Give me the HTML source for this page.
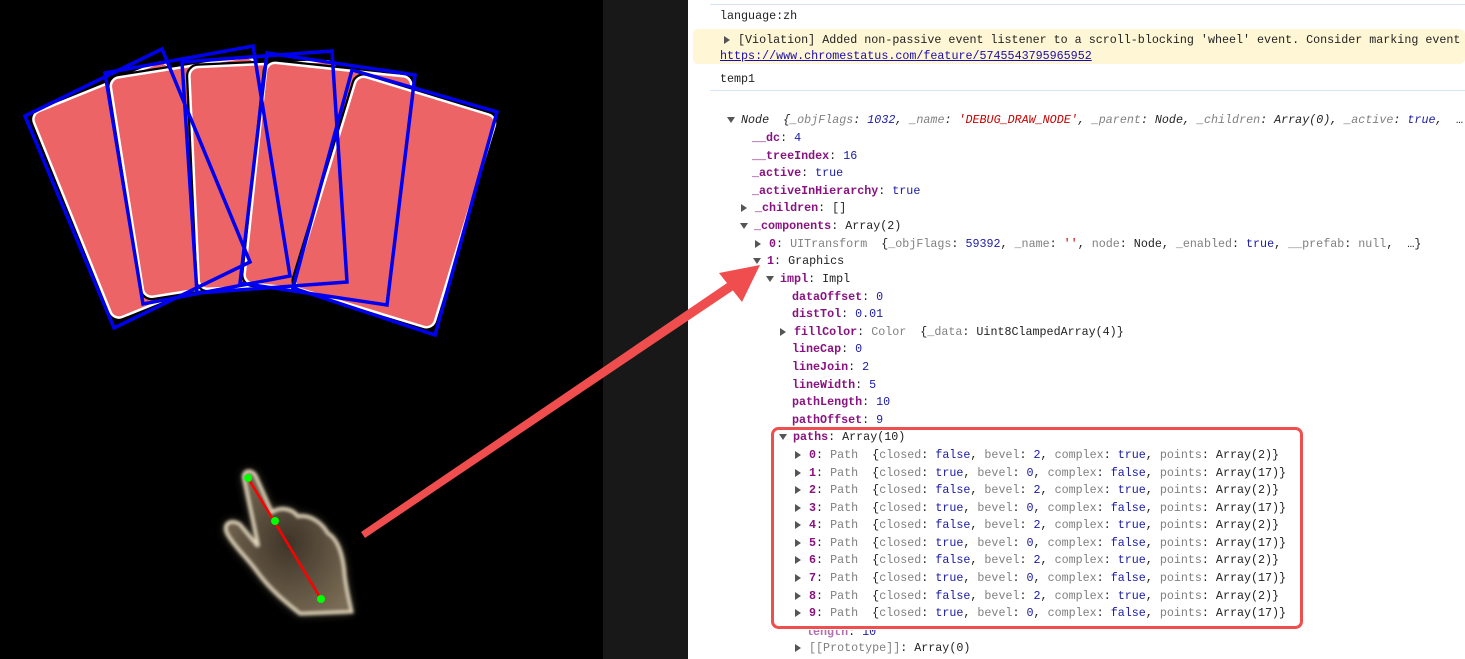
<!DOCTYPE html>
<html><head><meta charset="utf-8"><style>
body{margin:0;width:1465px;height:659px;overflow:hidden;background:#fff;position:relative;font-family:"Liberation Mono",monospace;font-size:11.7px}
.l{position:absolute;white-space:pre;line-height:16px;color:#222}
.k{color:#881280;font-weight:bold}
.v{color:#1a1aa6}
.g{color:#808080}
.s{color:#c80000}
.t{display:inline-block;width:0;height:0;border-left:4px solid transparent;border-right:4px solid transparent;border-top:6px solid #555;position:absolute;margin-top:5px}
.r{display:inline-block;width:0;height:0;border-top:4px solid transparent;border-bottom:4px solid transparent;border-left:6px solid #555;position:absolute;margin-top:4px}
</style></head><body>
<div style="position:absolute;left:0;top:0;width:603px;height:659px;background:#000"></div>
<div style="position:absolute;left:603px;top:0;width:85px;height:659px;background:#181818"></div>
<svg style="position:absolute;left:0;top:0" width="688" height="659">
<defs>
<filter id="gl" x="-30%" y="-30%" width="160%" height="160%"><feGaussianBlur stdDeviation="1.5"/></filter>
<filter id="gl2" x="-30%" y="-30%" width="160%" height="160%"><feGaussianBlur stdDeviation="5"/></filter>
<radialGradient id="hg" cx="0.5" cy="0.5" r="0.6"><stop offset="0" stop-color="#3e3428"/><stop offset="1" stop-color="#7a6c55"/></radialGradient>
<g id="cd"><rect x="-73" y="-111" width="146" height="222" rx="9" fill="#ec6466" stroke="#000" stroke-width="7"/><rect x="-73" y="-111" width="146" height="222" rx="9" fill="#ec6466" stroke="#fff" stroke-width="2.5"/></g>
</defs>
<use href="#cd" transform="translate(140,190) rotate(-22)"/>
<use href="#cd" transform="translate(199,177) rotate(-9)"/>
<use href="#cd" transform="translate(267,175) rotate(-2.6)"/>
<use href="#cd" transform="translate(328,180) rotate(6)"/>
<use href="#cd" transform="translate(395,202) rotate(17)"/>
<g stroke="#0000f0" stroke-width="3.5" fill="none">
<polygon points="25,116 162,49 250,262 114,328"/>
<polygon points="105,73 253,46 290,276 143,304"/>
<polygon points="182,62 332,51 347,282 197,293"/>
<polygon points="267,53 415,75 387,305 240,283"/>
<polygon points="352,70 497,112 435,335 293,288"/>
</g>
<path id="hp" d="M244,480 C241,470 252,468 256,476 L272,512 C280,506 292,508 298,516 C310,514 322,522 328,533 C340,540 344,560 345,576 C347,592 350,603 352,612 L300,614 C285,602 270,590 257,572 C247,558 235,548 227,534 C222,524 230,518 240,524 L258,546 Z" fill="#c9b894" filter="url(#gl2)" opacity="0.5"/>
<path d="M244,480 C241,470 252,468 256,476 L272,512 C280,506 292,508 298,516 C310,514 322,522 328,533 C340,540 344,560 345,576 C347,592 350,603 352,612 L300,614 C285,602 270,590 257,572 C247,558 235,548 227,534 C222,524 230,518 240,524 L258,546 Z" fill="url(#hg)" stroke="#e8dcc0" stroke-width="3" filter="url(#gl)"/>
<line x1="248" y1="478" x2="321" y2="599" stroke="#f00" stroke-width="2.5"/>
<circle cx="248" cy="478" r="4" fill="#0f0"/><circle cx="275" cy="521" r="4" fill="#0f0"/><circle cx="321" cy="599" r="4" fill="#0f0"/>
</svg>
<svg style="position:absolute;left:0;top:0;pointer-events:none" width="1465" height="659">
<polygon points="361,532 365,538 738,287 733,279" fill="#f04e4e"/>
<polygon points="760,265 719,273 742,302" fill="#f04e4e"/>
<rect x="772.5" y="428.5" width="529" height="199" rx="6" fill="none" stroke="#ee4f4f" stroke-width="3"/>
</svg>
<div style="position:absolute;left:710px;top:4px;width:755px;height:1px;background:#d6e3f5"></div>
<div class="l" style="left:720px;top:8px">language:zh</div>
<div style="position:absolute;left:693px;top:29px;width:772px;height:35px;background:#fef6d5;border-radius:5px"></div>
<div class="l" style="left:724px;top:32px"><span class="r"></span>  [Violation] Added non-passive event listener to a scroll-blocking 'wheel' event. Consider marking event h</div>
<div class="l" style="left:720px;top:48px;color:#1a0dab;text-decoration:underline">https://www.chromestatus.com/feature/5745543795965952</div>
<div class="l" style="left:720px;top:71px">temp1</div>
<div style="position:absolute;left:710px;top:90px;width:755px;height:1px;background:#d6e3f5"></div>
<div class="l" style="left:727px;top:112px"><span class="t"></span>  <i>Node  {<span class="g">_objFlags</span>: <span class="v">1032</span>, <span class="g">_name</span>: <span class="s">'DEBUG_DRAW_NODE'</span>, <span class="g">_parent</span>: Node, <span class="g">_children</span>: Array(0), <span class="g">_active</span>: <span class="v">true</span>,  …</i></div>
<div class="l" style="left:752px;top:130px"><span class="k">__dc</span>: <span class="v">4</span></div>
<div class="l" style="left:752px;top:148px"><span class="k">__treeIndex</span>: <span class="v">16</span></div>
<div class="l" style="left:752px;top:165px"><span class="k">_active</span>: <span class="v">true</span></div>
<div class="l" style="left:752px;top:183px"><span class="k">_activeInHierarchy</span>: <span class="v">true</span></div>
<div class="l" style="left:741px;top:200px"><span class="r"></span>  <span class="k">_children</span>: []</div>
<div class="l" style="left:740px;top:218px"><span class="t"></span>  <span class="k">_components</span>: Array(2)</div>
<div class="l" style="left:755px;top:236px"><span class="r"></span>  <span class="k">0</span>: <span class="g">UITransform</span>  {<span class="g">_objFlags</span>: <span class="v">59392</span>, <span class="g">_name</span>: <span class="s">''</span>, <span class="g">node</span>: Node, <span class="g">_enabled</span>: <span class="v">true</span>, <span class="g">__prefab</span>: <span class="g">null</span>,  …}</div>
<div class="l" style="left:753px;top:253px"><span class="t"></span>  <span class="k">1</span>: Graphics</div>
<div class="l" style="left:766px;top:271px"><span class="t"></span>  <span class="k">impl</span>: Impl</div>
<div class="l" style="left:792px;top:289px"><span class="k">dataOffset</span>: <span class="v">0</span></div>
<div class="l" style="left:792px;top:306px"><span class="k">distTol</span>: <span class="v">0.01</span></div>
<div class="l" style="left:780px;top:324px"><span class="r"></span>  <span class="k">fillColor</span>: <span class="g">Color</span>  {<span class="g">_data</span>: Uint8ClampedArray(4)}</div>
<div class="l" style="left:792px;top:341px"><span class="k">lineCap</span>: <span class="v">0</span></div>
<div class="l" style="left:792px;top:359px"><span class="k">lineJoin</span>: <span class="v">2</span></div>
<div class="l" style="left:792px;top:377px"><span class="k">lineWidth</span>: <span class="v">5</span></div>
<div class="l" style="left:792px;top:394px"><span class="k">pathLength</span>: <span class="v">10</span></div>
<div class="l" style="left:792px;top:412px"><span class="k">pathOffset</span>: <span class="v">9</span></div>
<div class="l" style="left:779px;top:429px"><span class="t"></span>  <span class="k">paths</span>: Array(10)</div>
<div class="l" style="left:795px;top:447px"><span class="r"></span>  <span class="k">0</span>: <span class="g">Path</span>  {<span class="g">closed</span>: <span class="v">false</span>, <span class="g">bevel</span>: <span class="v">2</span>, <span class="g">complex</span>: <span class="v">true</span>, <span class="g">points</span>: Array(2)}</div>
<div class="l" style="left:795px;top:465px"><span class="r"></span>  <span class="k">1</span>: <span class="g">Path</span>  {<span class="g">closed</span>: <span class="v">true</span>, <span class="g">bevel</span>: <span class="v">0</span>, <span class="g">complex</span>: <span class="v">false</span>, <span class="g">points</span>: Array(17)}</div>
<div class="l" style="left:795px;top:482px"><span class="r"></span>  <span class="k">2</span>: <span class="g">Path</span>  {<span class="g">closed</span>: <span class="v">false</span>, <span class="g">bevel</span>: <span class="v">2</span>, <span class="g">complex</span>: <span class="v">true</span>, <span class="g">points</span>: Array(2)}</div>
<div class="l" style="left:795px;top:500px"><span class="r"></span>  <span class="k">3</span>: <span class="g">Path</span>  {<span class="g">closed</span>: <span class="v">true</span>, <span class="g">bevel</span>: <span class="v">0</span>, <span class="g">complex</span>: <span class="v">false</span>, <span class="g">points</span>: Array(17)}</div>
<div class="l" style="left:795px;top:517px"><span class="r"></span>  <span class="k">4</span>: <span class="g">Path</span>  {<span class="g">closed</span>: <span class="v">false</span>, <span class="g">bevel</span>: <span class="v">2</span>, <span class="g">complex</span>: <span class="v">true</span>, <span class="g">points</span>: Array(2)}</div>
<div class="l" style="left:795px;top:535px"><span class="r"></span>  <span class="k">5</span>: <span class="g">Path</span>  {<span class="g">closed</span>: <span class="v">true</span>, <span class="g">bevel</span>: <span class="v">0</span>, <span class="g">complex</span>: <span class="v">false</span>, <span class="g">points</span>: Array(17)}</div>
<div class="l" style="left:795px;top:552px"><span class="r"></span>  <span class="k">6</span>: <span class="g">Path</span>  {<span class="g">closed</span>: <span class="v">false</span>, <span class="g">bevel</span>: <span class="v">2</span>, <span class="g">complex</span>: <span class="v">true</span>, <span class="g">points</span>: Array(2)}</div>
<div class="l" style="left:795px;top:570px"><span class="r"></span>  <span class="k">7</span>: <span class="g">Path</span>  {<span class="g">closed</span>: <span class="v">true</span>, <span class="g">bevel</span>: <span class="v">0</span>, <span class="g">complex</span>: <span class="v">false</span>, <span class="g">points</span>: Array(17)}</div>
<div class="l" style="left:795px;top:588px"><span class="r"></span>  <span class="k">8</span>: <span class="g">Path</span>  {<span class="g">closed</span>: <span class="v">false</span>, <span class="g">bevel</span>: <span class="v">2</span>, <span class="g">complex</span>: <span class="v">true</span>, <span class="g">points</span>: Array(2)}</div>
<div class="l" style="left:795px;top:605px"><span class="r"></span>  <span class="k">9</span>: <span class="g">Path</span>  {<span class="g">closed</span>: <span class="v">true</span>, <span class="g">bevel</span>: <span class="v">0</span>, <span class="g">complex</span>: <span class="v">false</span>, <span class="g">points</span>: Array(17)}</div>
<div class="l" style="left:806px;top:624px;clip-path:inset(6px 0 0 0)"><span class="k" style="color:#b070b0">length</span>: <span class="v">10</span></div>
<div class="l" style="left:795px;top:640px"><span class="r"></span>  <span class="g">[[Prototype]]</span>: Array(0)</div>
</body></html>
